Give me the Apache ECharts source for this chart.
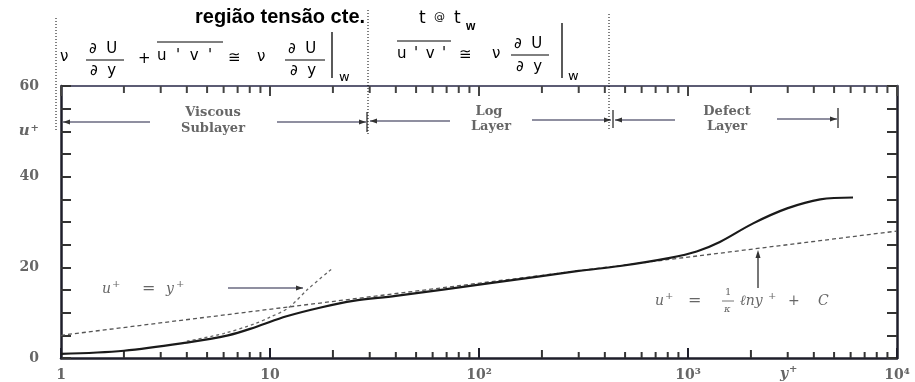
<!DOCTYPE html>
<html><head><meta charset="utf-8">
<script src="https://cdn.jsdelivr.net/npm/echarts@6/dist/echarts.min.js"></script>
<style>html,body{margin:0;padding:0;background:#fff}#c{width:915px;height:382px}</style>
</head><body><div id="c"></div>
<script>
// ---- data ----
const yPlus = [1, 2, 4, 6.3, 8.5, 12, 17.7, 25, 40, 113, 300, 473, 820, 1100, 1420, 2050, 2980, 4290, 6160];
const uPlus = [0.9, 1.6, 3.4, 5.0, 6.8, 9.2, 11.2, 12.6, 13.7, 16.5, 19.2, 20.3, 22.1, 23.5, 25.6, 29.7, 33.0, 35.0, 35.4];
const logLawY = [1, 10000];
const logLawU = [5, 28];
const linearY = [4, 6, 8.5, 10, 12.2, 15.2, 19.8];
const linearU = [3.7, 5.4, 7.6, 9.0, 11.0, 15.2, 19.7];
const xTickLabels = {1: '1', 10: '10', 100: '10²', 1000: '10³', 10000: '10⁴'};
const yTickLabels = {0: '0', 20: '20', 40: '40', 50: '{i|u}{s|+}', 60: '60'};
const minorTicks = [2,3,4,5,6,7,8,9, 20,30,40,50,60,70,80,90, 200,300,400,500,600,700,800,900, 2000,3000,4000,5000,6000,7000,8000,9000];

const chart = echarts.init(document.getElementById('c'), null, {renderer: 'canvas'});
const axisInk = '#1e1e2a';
const labelFont = {fontFamily: 'DejaVu Serif', fontSize: 14, fontWeight: 'bold', color: '#666'};
const annInk = '#6a6a80';

function hArrow(x1, x2, y, head) { // head: 'left' | 'right'
  const hx = head === 'left' ? x1 : x2, d = head === 'left' ? 7 : -7;
  return [
    {type: 'line', shape: {x1, y1: y, x2, y2: y}, style: {stroke: annInk, lineWidth: 1.6}},
    {type: 'polygon', shape: {points: [[hx, y], [hx + d, y - 2.5], [hx + d, y + 2.5]]}, style: {fill: '#333'}}
  ];
}
function vBar(x, y1, y2) {
  return {type: 'line', shape: {x1: x, y1, x2: x, y2}, style: {stroke: '#555', lineWidth: 1.6}};
}
function T(text, x, y, o) {
  o = o || {};
  return {type: 'text', x, y, z: 50, style: Object.assign({
    text, fill: '#000', fontFamily: 'DejaVu Sans', fontSize: 15,
    verticalAlign: 'middle', align: 'left'}, o)};
}
function L(x1, y1, x2, y2, o) {
  return {type: 'line', z: 50, shape: {x1, y1, x2, y2}, style: Object.assign({stroke: '#000', lineWidth: 1}, o || {})};
}
function dotted(x, y1, y2) {
  return L(x, y1, x, y2, {lineDash: [1, 2], lineWidth: 1, stroke: '#000'});
}
const serifAnn = {fontFamily: 'DejaVu Serif', fontSize: 13, fontWeight: 'bold', fill: '#666', align: 'center'};
const italAnn = {fontFamily: 'DejaVu Serif', fontSize: 14, fontStyle: 'italic', fill: '#666'};
const sup = o => Object.assign({}, italAnn, {fontSize: 10, fontStyle: 'normal'}, o || {});
const EN = '\u2002';

const graphic = [
  // title
  T('região tensão cte.', 195, 17, {fontFamily: 'Liberation Sans', fontWeight: 'bold', fontSize: 20}),
  T('t', 419, 19, {fontSize: 17}),
  T('@', 434, 17, {fontSize: 11}),
  T('t', 454, 19, {fontSize: 17}),
  T('w', 466, 27, {fontSize: 12, fontWeight: 'bold', fontFamily: 'Liberation Sans'}),
  // formula 1
  T('ν', 60, 57),
  T('∂  U', 89, 49), L(86, 60, 124, 60), T('∂  y', 90, 71),
  T('+', 138, 59),
  L(157, 42, 223, 42), T("u  '  v  '", 157, 56),
  T('≅', 228, 58),
  T('ν', 257, 57),
  T('∂  U', 288, 49), L(285, 60, 325, 60), T('∂  y', 290, 71),
  L(332, 32, 332, 78, {lineWidth: 1.3}), T('w', 339, 78, {fontSize: 13}),
  // formula 2
  L(397, 41, 451, 41), T('u' + EN + "'" + EN + 'v' + EN + "'", 397, 54),
  T('≅', 459, 55),
  T('ν', 492, 54),
  T('∂  U', 514, 44), L(511, 55, 549, 55), T('∂  y', 516, 67),
  L(562, 23, 562, 78, {lineWidth: 1.3}), T('w', 568, 77, {fontSize: 13}),
  // dotted separators
  dotted(56, 18, 130), dotted(368, 10, 134), dotted(609, 14, 130),
  // region annotations
  ...hArrow(63, 150, 122, 'left'),
  T('Viscous', 213, 113, serifAnn), T('Sublayer', 213, 129, serifAnn),
  ...hArrow(277, 366, 122, 'right'), vBar(367, 112, 132),
  ...hArrow(370, 450, 121, 'left'),
  T('Log', 489, 112, serifAnn), T('Layer', 491, 127, serifAnn),
  ...hArrow(532, 611, 120, 'right'), vBar(613, 110, 128),
  ...hArrow(615, 675, 120, 'left'),
  T('Defect', 727, 112, serifAnn), T('Layer', 727, 127, serifAnn),
  ...hArrow(777, 837, 119, 'right'), vBar(838, 108, 128),
  // u+ = y+ annotation
  T('u', 102, 289, italAnn), T('+', 112, 284, sup()),
  T('=', 142, 289, Object.assign({}, italAnn, {fontStyle: 'normal', fontSize: 16})),
  T('y', 166, 289, italAnn), T('+', 176, 284, sup()),
  ...hArrow(228, 303, 288, 'right'),
  // log-law annotation
  L(758, 288, 758, 256, {stroke: '#555', lineWidth: 1.6}),
  {type: 'polygon', z: 50, shape: {points: [[758, 250], [755.5, 258], [760.5, 258]]}, style: {fill: '#333'}},
  T('u', 655, 301, italAnn), T('+', 665, 296, sup()),
  T('=', 688, 301, Object.assign({}, italAnn, {fontStyle: 'normal', fontSize: 16})),
  T('1', 725, 292, sup()),
  L(722, 301, 734, 301, {stroke: '#777', lineWidth: 1}),
  T('κ', 724, 309, sup({fontStyle: 'italic'})),
  T('ℓny', 740, 301, italAnn), T('+', 768, 296, sup()),
  T('+', 788, 301, Object.assign({}, italAnn, {fontStyle: 'normal'})),
  T('C', 818, 301, italAnn),
  // y+ axis label
  T('y', 780, 374, Object.assign({}, italAnn, {fontWeight: 'bold', fontSize: 14})),
  T('+', 789, 369, sup({fontWeight: 'bold'}))
];

const pairs = (xs, ys) => xs.map((x, i) => [x, ys[i]]);

chart.setOption({
  animation: false,
  backgroundColor: '#fff',
  grid: {left: 61, right: 18, top: 86, bottom: 24},
  xAxis: [{
    type: 'log', logBase: 10, min: 1, max: 10000, position: 'bottom',
    axisLine: {show: true, lineStyle: {color: axisInk, width: 2.5}},
    axisTick: {show: true, inside: true, length: 10, lineStyle: {color: axisInk, width: 2}},
    axisLabel: Object.assign({margin: 10, formatter: v => xTickLabels[Math.round(v)] || ''}, labelFont),
    splitLine: {show: false}, minorTick: {show: false}
  }, {
    type: 'log', logBase: 10, min: 1, max: 10000, position: 'top',
    axisLine: {show: true, onZero: false, lineStyle: {color: '#5c5c74', width: 2}},
    axisTick: {show: true, inside: true, length: 10, lineStyle: {color: '#444', width: 2}},
    axisLabel: {show: false}, splitLine: {show: false}
  }],
  yAxis: [{
    type: 'value', min: 0, max: 60, interval: 5, position: 'left',
    axisLine: {show: true, lineStyle: {color: axisInk, width: 2.5}},
    axisTick: {show: true, inside: true, length: 10, lineStyle: {color: '#333', width: 2}},
    axisLabel: Object.assign({margin: 22, formatter: v => yTickLabels[v] || '',
      rich: {i: {fontFamily: 'DejaVu Serif', fontSize: 15, fontStyle: 'italic', fontWeight: 'bold', color: '#666'},
             s: {fontFamily: 'DejaVu Serif', fontSize: 10, fontWeight: 'bold', color: '#666', verticalAlign: 'top', padding: [0, 0, 6, 1]}}}, labelFont),
    splitLine: {show: false}
  }, {
    type: 'value', min: 0, max: 60, interval: 5, position: 'right',
    axisLine: {show: true, lineStyle: {color: axisInk, width: 2.5}},
    axisTick: {show: true, inside: true, length: 10, lineStyle: {color: '#333', width: 2}},
    axisLabel: {show: false}, splitLine: {show: false}
  }],
  series: [{
    type: 'line', name: 'profile', data: pairs(yPlus, uPlus), smooth: 0.35, symbol: 'none',
    lineStyle: {color: '#1a1a1a', width: 2.2}, z: 10
  }, {
    type: 'line', name: 'log law', data: pairs(logLawY, logLawU), symbol: 'none',
    lineStyle: {color: '#555', width: 1.3, type: [4, 3]}, z: 9
  }, {
    type: 'line', name: 'linear', data: pairs(linearY, linearU), smooth: 0.3, symbol: 'none',
    lineStyle: {color: '#666', width: 1.3, type: [3, 3]}, z: 9
  }, {
    type: 'custom', name: 'minor ticks', silent: true, clip: false, z: 8,
    data: minorTicks.map(v => [v, 0]),
    renderItem: function (params, api) {
      const v = api.value(0);
      const b = api.coord([v, 0]);
      const t = api.coord([v, 60]);
      const big = (v === 2 || v === 20 || v === 200 || v === 2000) ? 2 : 0;
      return {type: 'group', children: [
        {type: 'line', shape: {x1: b[0], y1: b[1], x2: b[0], y2: b[1] - 6 - big}, style: {stroke: '#333', lineWidth: 2}},
        {type: 'line', shape: {x1: t[0], y1: t[1], x2: t[0], y2: t[1] + 7}, style: {stroke: '#444', lineWidth: 2}}
      ]};
    }
  }],
  graphic: graphic
});
</script>
</body></html>
